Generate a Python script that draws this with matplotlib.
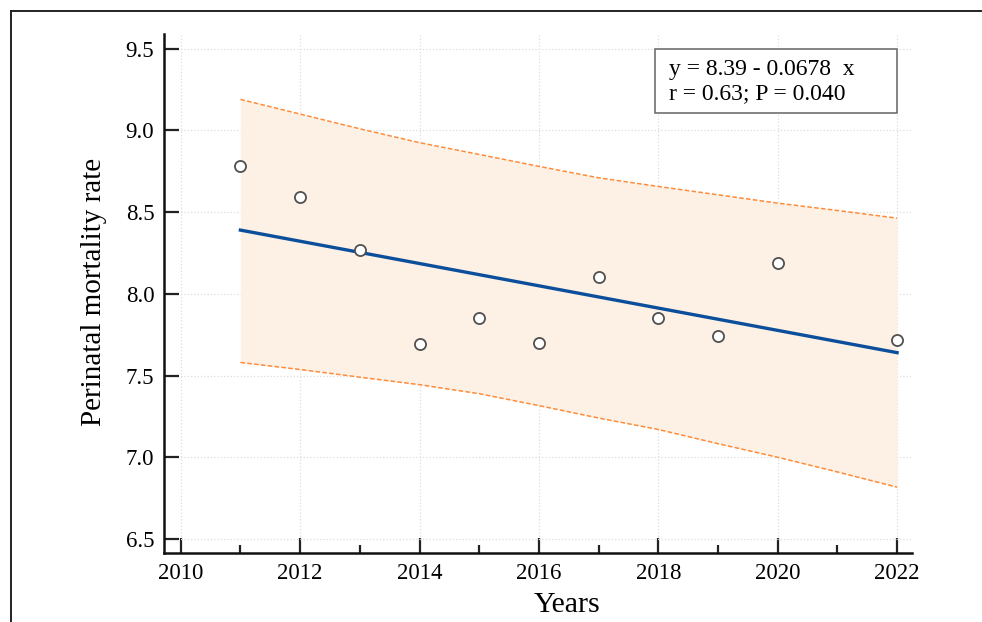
import matplotlib.pyplot as plt
from matplotlib.patches import Rectangle
from matplotlib.lines import Line2D

plt.rcParams['font.family'] = ['Liberation Serif', 'DejaVu Serif']

# observed rates
years = [2011, 2012, 2013, 2014, 2015, 2016, 2017, 2018, 2019, 2020, 2022]
rates = [8.78, 8.59, 8.27, 7.69, 7.85, 7.70, 8.10, 7.85, 7.74, 8.19, 7.72]

# regression line end points
fit_years = [2011, 2022]
fit_vals = [8.39, 7.64]

# band
band_years = [2011, 2012, 2013, 2014, 2015, 2016, 2017, 2018, 2019, 2020, 2021, 2022]
band_hi = [9.19, 9.10, 9.01, 8.925, 8.853, 8.78, 8.71, 8.657, 8.606, 8.555, 8.51, 8.463]
band_lo = [7.58, 7.537, 7.49, 7.444, 7.389, 7.316, 7.24, 7.17, 7.083, 7.0, 6.91, 6.817]

xticks = [2010, 2012, 2014, 2016, 2018, 2020, 2022]
yticks = [6.5, 7.0, 7.5, 8.0, 8.5, 9.0, 9.5]

W, H = 982, 622
fig = plt.figure(figsize=(W/100, H/100), dpi=100)
ax = fig.add_axes([164/W, 1-553/H, (912-164)/W, (553-34)/H])

ax.fill_between(band_years, band_lo, band_hi, color='#fdf0e4', lw=0, zorder=1)
ax.plot(band_years, band_hi, color='#ff8c3a', lw=1.1, ls=(0, (3, 1.5)), zorder=2)
ax.plot(band_years, band_lo, color='#ff8c3a', lw=1.1, ls=(0, (3, 1.5)), zorder=2)
ax.plot(fit_years, fit_vals, color='#0b4f9c', lw=2.4, zorder=3)
ax.plot(years, rates, 'o', ms=8, mfc='white', mec='#505050', mew=1.3, zorder=4)

ax.set_xlim(2009.72, 2022.25)
ax.set_ylim(6.414, 9.59)
ax.set_xticks(xticks)
ax.set_xticks(range(2011, 2022, 2), minor=True)
ax.set_yticks(yticks)
ax.set_yticklabels(['%.1f' % v for v in yticks])
ax.tick_params(axis='both', which='major', direction='in', length=11, width=1.6,
               labelsize=16.5, pad=7, color='#222222')
ax.tick_params(axis='x', which='minor', direction='in', length=5.5, width=1.6, color='#222222')
ax.grid(True, which='major', color='#dddddd', ls=':', lw=0.9)
ax.set_axisbelow(True)

for s in ['top', 'right']:
    ax.spines[s].set_visible(False)
for s in ['left', 'bottom']:
    ax.spines[s].set_linewidth(1.8)
    ax.spines[s].set_color('#111111')

ax.set_xlabel('Years', fontsize=21.5)
ax.set_ylabel('Perinatal mortality rate', fontsize=21)
ax.xaxis.set_label_coords((567-164)/748, -0.075)
ax.yaxis.set_label_coords((107-164)/748, 0.503)

# equation box
fig.patches.append(Rectangle((655/W, 1-113/H), 242/W, 64/H, transform=fig.transFigure,
                             fill=True, fc='white', ec='#707070', lw=1.2, zorder=5))
fig.text(669/W, 1-70/H, 'y = 8.39 - 0.0678  x', fontsize=17, va='center', ha='left', zorder=6)
fig.text(669/W, 1-94/H, 'r = 0.63; P = 0.040', fontsize=17, va='center', ha='left', zorder=6)

# outer frame lines
fig.add_artist(Line2D([11/W, 1], [1-11/H, 1-11/H], transform=fig.transFigure, color='#222222', lw=1.4))
fig.add_artist(Line2D([11/W, 11/W], [0, 1-11/H], transform=fig.transFigure, color='#222222', lw=1.4))

fig.savefig('out.png', dpi=100)
